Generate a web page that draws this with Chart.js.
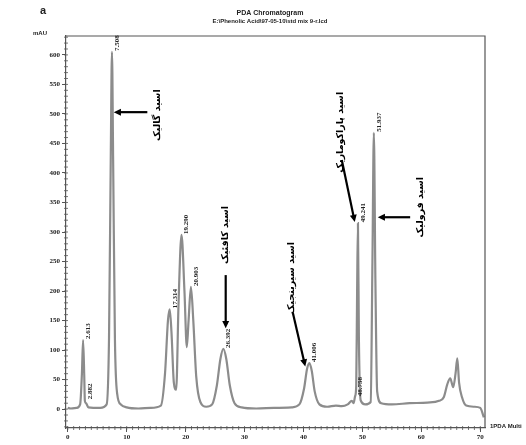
<!DOCTYPE html>
<html>
<head>
<meta charset="utf-8">
<script src="https://cdn.jsdelivr.net/npm/chart.js@4.4.1/dist/chart.umd.min.js"></script>
<style>
  html, body { margin: 0; padding: 0; background: #fff; }
  #wrap { width: 526px; height: 445px; }
</style>
</head>
<body>
<div id="wrap"><canvas id="chrom"></canvas></div>
<script>
    // trace (retention time in min, signal in mAU)
    var times = [0, 0.5, 1.5, 2.1, 2.4, 2.6, 2.8, 2.9, 3.1, 3.5, 5.5, 6.6, 7.0, 7.3, 7.5, 7.7, 8.0, 8.4, 9.0, 10,
      12, 14, 15.8, 16.5, 17.0, 17.3, 17.6, 18.0, 18.4, 18.8, 19.3, 19.8, 20.2, 20.5, 20.9, 21.3, 21.8, 22.5, 23.5, 24.5,
      25.3, 25.9, 26.4, 26.9, 27.5, 28.3, 29.5, 32, 35, 38, 39.3, 40.1, 40.6, 41.0, 41.4, 41.9, 42.7, 44, 45.5, 46.5,
      47.5, 48.2, 48.5, 48.76, 48.95, 49.1, 49.24, 49.4, 49.7, 50.5, 51.4, 51.7, 51.94, 52.2, 52.5, 53.2, 55, 58, 61, 63,
      63.8, 64.4, 64.9, 65.4, 65.8, 66.1, 66.4, 66.9, 67.6, 69, 70, 70.6];
    var mau = [2, 1, 2, 8, 60, 117, 55, 14, 10, 3, 2, 8, 120, 430, 605, 420, 120, 25, 8, 3,
      1, 2, 6, 60, 150, 169, 130, 45, 33, 180, 295, 200, 105, 150, 207, 150, 55, 12, 4, 8,
      40, 85, 102, 85, 40, 10, 3, 1, 2, 3, 8, 35, 68, 78, 65, 30, 8, 4, 6, 5,
      8, 14, 10, 22, 40, 200, 315, 120, 15, 8, 12, 250, 468, 220, 30, 10, 8, 10, 11, 14,
      20, 42, 52, 37, 60, 86, 45, 20, 6, 4, 2, -14];

    // peak retention-time labels
    var peakLabels = ["2.613", "2.882", "7.508", "17.314", "19.290", "20.903", "26.392", "41.006", "48.758", "49.241", "51.937"];
    var peakTimes = [2.613, 2.882, 7.508, 17.314, 19.290, 20.903, 26.392, 41.006, 48.758, 49.241, 51.937];
    var peakTops = [117, 15, 605, 169, 295, 207, 102, 78, 20, 315, 468];

    // axis ticks
    var xTicks = [0, 10, 20, 30, 40, 50, 60, 70];
    var yTicks = [0, 50, 100, 150, 200, 250, 300, 350, 400, 450, 500, 550, 600];

    // compound names with their arrows (data coordinates)
    var names = ["اسید گالیک", "اسید کافئیک", "اسید سیرینجیک", "اسید پاراکوماریک", "اسید فرولیک"];
    var nameAt = [[15.3, 498], [26.7, 295], [38.0, 222], [46.3, 469], [59.8, 342]];
    var arrowFrom = [[13.5, 503], [26.8, 227], [38.2, 163], [46.5, 422], [58.1, 325]];
    var arrowTo = [[7.8, 503], [26.8, 137], [40.3, 72], [48.7, 317], [52.6, 325]];

    var tickFont = { family: "Liberation Serif", size: 7, weight: "bold" };

    var overlay = {
      id: "overlay",
      afterDraw: function (chart) {
        var c = chart.ctx, a = chart.chartArea;
        var xs = chart.scales.x, ys = chart.scales.y;
        c.save();

        // top and right frame
        c.strokeStyle = "#555";
        c.lineWidth = 1.2;
        c.beginPath();
        c.moveTo(a.left, a.top); c.lineTo(a.right, a.top); c.lineTo(a.right, a.bottom);
        c.stroke();

        // minor ticks
        c.lineWidth = 0.8;
        c.beginPath();
        for (var v = -30; v <= 630; v += 10) {
          var py = ys.getPixelForValue(v);
          c.moveTo(a.left - 2, py); c.lineTo(a.left + 2, py);
        }
        for (var t = 0; t <= 70; t += 1) {
          var px = xs.getPixelForValue(t);
          c.moveTo(px, a.bottom - 2); c.lineTo(px, a.bottom + 2);
        }
        c.stroke();

        // retention-time labels
        c.fillStyle = "#222";
        c.font = "bold 7px 'Liberation Serif'";
        c.textAlign = "left";
        c.textBaseline = "middle";
        peakLabels.forEach(function (lab, i) {
          c.save();
          c.translate(xs.getPixelForValue(peakTimes[i]) + 5, ys.getPixelForValue(peakTops[i]) - 1);
          c.rotate(-Math.PI / 2);
          c.fillText(lab, 0, 0);
          c.restore();
        });

        // compound names
        c.fillStyle = "#000";
        c.font = "bold 9.5px 'DejaVu Sans'";
        c.textAlign = "center";
        names.forEach(function (n, i) {
          c.save();
          c.translate(xs.getPixelForValue(nameAt[i][0]), ys.getPixelForValue(nameAt[i][1]));
          c.rotate(-Math.PI / 2);
          c.direction = "rtl";
          c.fillText(n, 0, 0);
          c.restore();
        });

        // arrows
        c.strokeStyle = "#000";
        c.lineWidth = 2.2;
        arrowFrom.forEach(function (f, i) {
          var x1 = xs.getPixelForValue(f[0]), y1 = ys.getPixelForValue(f[1]);
          var x2 = xs.getPixelForValue(arrowTo[i][0]), y2 = ys.getPixelForValue(arrowTo[i][1]);
          var ang = Math.atan2(y2 - y1, x2 - x1), h = 8;
          c.beginPath();
          c.moveTo(x1, y1);
          c.lineTo(x2 - Math.cos(ang) * h * 0.8, y2 - Math.sin(ang) * h * 0.8);
          c.stroke();
          c.beginPath();
          c.moveTo(x2, y2);
          c.lineTo(x2 - h * Math.cos(ang - 0.45), y2 - h * Math.sin(ang - 0.45));
          c.lineTo(x2 - h * Math.cos(ang + 0.45), y2 - h * Math.sin(ang + 0.45));
          c.closePath();
          c.fill();
        });

        // headings
        c.fillStyle = "#222";
        c.textAlign = "center";
        c.font = "bold 7px 'Liberation Sans'";
        c.fillText("PDA Chromatogram", 270, 13);
        c.font = "bold 6px 'Liberation Sans'";
        c.fillText("E:\\Phenolic Acid\\97-05-10\\std mix 9-r.lcd", 270, 21);
        c.font = "bold 11px 'Liberation Sans'";
        c.fillText("a", 43, 11);
        c.font = "bold 6px 'Liberation Sans'";
        c.fillText("mAU", 40, 33);
        c.textAlign = "left";
        c.fillText("1PDA Multi", 490, 426);
        c.restore();
      }
    };

    var ctx = document.getElementById("chrom").getContext("2d");
    var chrom = new Chart(ctx, {
      type: "line",
      data: {
        datasets: [{
          data: times.map(function (t, i) { return { x: t, y: mau[i] }; }),
          borderColor: "#8c8c8c",
          borderWidth: 2.2,
          pointRadius: 0,
          cubicInterpolationMode: "monotone",
          fill: false
        }]
      },
      options: {
        responsive: true,
        maintainAspectRatio: false,
        animation: false,
        layout: { padding: { left: 0, right: 41, top: 36, bottom: 0 } },
        plugins: { legend: { display: false }, tooltip: { enabled: false } },
        scales: {
          x: {
            type: "linear",
            min: -0.3,
            max: 70.8,
            afterBuildTicks: function (s) { s.ticks = xTicks.map(function (v) { return { value: v }; }); },
            afterFit: function (s) { s.height = 17; },
            grid: { drawOnChartArea: false, tickLength: 4, color: "#555" },
            border: { color: "#555", width: 1.2 },
            ticks: { color: "#222", font: tickFont, padding: 1, maxRotation: 0 }
          },
          y: {
            min: -32,
            max: 632,
            afterBuildTicks: function (s) { s.ticks = yTicks.map(function (v) { return { value: v }; }); },
            afterFit: function (s) { s.width = 66; },
            grid: { drawOnChartArea: false, tickLength: 4, color: "#555" },
            border: { color: "#555", width: 1.2 },
            ticks: { color: "#222", font: tickFont, padding: 2 }
          }
        }
      },
      plugins: [overlay]
    });
</script>
</body>
</html>
